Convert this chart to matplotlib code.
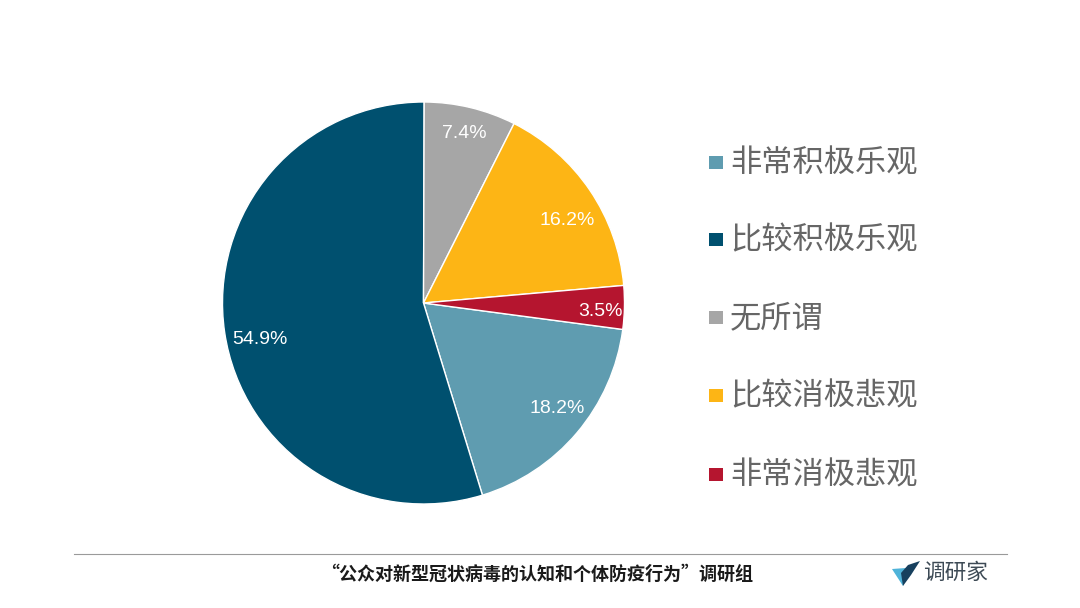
import matplotlib
matplotlib.use("Agg")
import matplotlib.pyplot as plt
import numpy as np
from matplotlib.patches import Polygon

plt.rcParams['font.family'] = ['Noto Sans CJK SC', 'DejaVu Sans']

# Pie data
categories = ["非常积极乐观", "比较积极乐观", "无所谓", "比较消极悲观", "非常消极悲观"]
values = [18.2, 54.9, 7.4, 16.2, 3.5]
colors = ["#5F9CB0", "#00506F", "#A6A6A6", "#FDB515", "#B5152F"]
value_labels = ["18.2%", "54.9%", "7.4%", "16.2%", "3.5%"]
footer = "“公众对新型冠状病毒的认知和个体防疫行为”调研组"
logo_text = "调研家"

W, H = 1080, 608
fig = plt.figure(figsize=(W / 100, H / 100), dpi=100, facecolor="white")

# Pie axes, square in pixels around the centre of the pie
cx, cy, r = 423.5, 303, 201
ax = fig.add_axes([(cx - r) / W, 1 - (cy + r) / H, 2 * r / W, 2 * r / H])
# the dark wedge has to end at 12 o'clock
start = 90 - (values[2] + values[3] + values[4]) * 3.6
wedges, _ = ax.pie(values, colors=colors, radius=1, startangle=start, counterclock=False,
                   wedgeprops={"edgecolor": "white", "linewidth": 1.0})
ax.set_xlim(-1, 1)
ax.set_ylim(-1, 1)
ax.set_aspect("equal")

# Value labels, along each wedge's middle angle with a small nudge
label_r = [0.84, 0.83, 0.88, 0.83, 0.88]
label_nudge = [2.6, 3.6, 0, -3.5, -0.7]
for w, txt, lr, nudge in zip(wedges, value_labels, label_r, label_nudge):
    mid = np.deg2rad((w.theta1 + w.theta2) / 2 + nudge)
    ax.text(lr * np.cos(mid), lr * np.sin(mid) - 0.01, txt, color="white", fontsize=14,
            ha="center", va="center", family=["Liberation Sans", "DejaVu Sans"])

# Full-figure overlay in pixel coordinates for legend and footer
ov = fig.add_axes([0, 0, 1, 1])
ov.set_xlim(0, W)
ov.set_ylim(H, 0)
ov.axis("off")

legend_y = [162, 239, 317, 395, 474]
for name, c, y in zip(categories, colors, legend_y):
    ov.add_patch(plt.Rectangle((709, y - 6.5), 14, 13, color=c, lw=0))
    ov.text(730, y + 1, name, fontsize=22.5, color="#666666", va="center", ha="left", fontweight="light")

ov.plot([74, 1007], [554, 554], color="#9A9A9A", lw=0.8)
ov.text(537, 574, footer, fontsize=13, color="#1A1A1A", ha="center", va="center", fontweight="bold")

# Logo mark and name
ov.add_patch(Polygon([[892, 569], [906, 568], [903, 586]], closed=True, color="#4FB3D9", lw=0))
ov.add_patch(Polygon([[920, 561], [908, 565], [901, 573], [903, 586], [911, 575]], closed=True, color="#17405E", lw=0))
ov.text(923, 573, logo_text, fontsize=15.6, color="#3D4A55", ha="left", va="center", fontweight="light")

fig.savefig("out.png", dpi=100)
